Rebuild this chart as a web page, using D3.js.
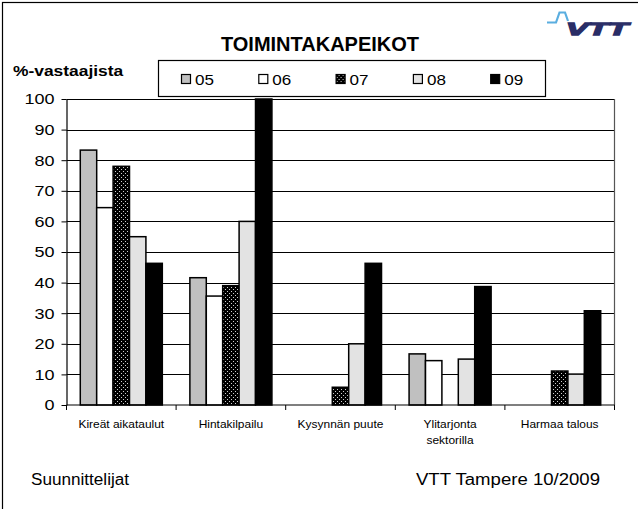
<!DOCTYPE html>
<html>
<head>
<meta charset="utf-8">
<script src="https://cdn.jsdelivr.net/npm/d3@7"></script>
<style>
  body { margin: 0; background: #fff; }
  text { font-family: "Liberation Sans", Arial, sans-serif; }
</style>
</head>
<body>
<svg id="chart" width="638" height="509"></svg>
<script>
// data
const categories = ['Kireät aikataulut', 'Hintakilpailu', 'Kysynnän puute', 'Ylitarjonta\nsektorilla', 'Harmaa talous'];
const seriesNames = ['05', '06', '07', '08', '09'];
const v05 = [83.3, 41.6, 0, 16.7, 0];
const v06 = [64.5, 35.6, 0, 14.5, 0];
const v07 = [78, 39, 5.8, 0, 11.1];
const v08 = [55, 60, 20, 15, 10.1];
const v09 = [46.3, 100, 46.3, 38.7, 30.8];
const yTicks = [0, 10, 20, 30, 40, 50, 60, 70, 80, 90, 100];

const series = [v05, v06, v07, v08, v09];
const fills = ['#c0c0c0', '#ffffff', 'url(#dots)', '#e3e3e3', '#000000'];
const FONT = '"Liberation Sans", Arial, sans-serif';

const svg = d3.select('#chart');
const margin = {left: 66.5, right: 614.5, top: 99, bottom: 405};

// the original text is drawn a little wide, so stretch it in place
function stretch(sel, k){
    sel.each(function(){
        let len = this.getComputedTextLength();
        d3.select(this).attr('textLength', len * k).attr('lengthAdjust', 'spacingAndGlyphs');
    });
}

// dotted pattern for 07
const defs = svg.append('defs');
const pat = defs.append('pattern')
    .attr('id', 'dots')
    .attr('patternUnits', 'userSpaceOnUse')
    .attr('width', 4).attr('height', 4);
pat.append('rect').attr('width', 4).attr('height', 4).attr('fill', '#000');
pat.append('rect').attr('x', 1).attr('y', 1).attr('width', 1).attr('height', 1).attr('fill', '#d0d0d0');
pat.append('rect').attr('x', 3).attr('y', 3).attr('width', 1).attr('height', 1).attr('fill', '#d0d0d0');

// outer frame
svg.append('rect')
    .attr('x', 2.5).attr('y', 2.5)
    .attr('width', 640).attr('height', 512)
    .attr('fill', 'none').attr('stroke', '#000').attr('stroke-width', 1.2);

let x = d3.scaleBand()
    .domain(categories)
    .range([margin.left, margin.right])
    .paddingInner(0).paddingOuter(0);

let xs = d3.scaleBand()
    .domain(seriesNames)
    .range([0, x.bandwidth()])
    .paddingOuter(0.84).paddingInner(0);

let y = d3.scaleLinear()
    .domain([0, 100])
    .range([margin.bottom, margin.top]);

// gridlines
svg.append('g').selectAll('line.grid')
    .data(yTicks.filter(d => d > 0))
    .enter().append('line')
        .attr('class', 'grid')
        .attr('x1', margin.left).attr('x2', margin.right)
        .attr('y1', d => Math.round(y(d)) + 0.5).attr('y2', d => Math.round(y(d)) + 0.5)
        .attr('stroke', '#000').attr('stroke-width', 1);

// right border of plot
svg.append('line')
    .attr('x1', margin.right).attr('x2', margin.right)
    .attr('y1', margin.top).attr('y2', margin.bottom)
    .attr('stroke', '#555').attr('stroke-width', 1.2);

// bars
const barData = [];
categories.forEach((c, i) => {
    seriesNames.forEach((s, j) => {
        barData.push({cat: c, s: s, value: series[j][i], fill: fills[j]});
    });
});

svg.append('g').selectAll('rect.bar')
    .data(barData.filter(d => d.value > 0))
    .enter().append('rect')
        .attr('class', 'bar')
        .attr('x', d => x(d.cat) + xs(d.s))
        .attr('width', xs.bandwidth())
        .attr('y', d => y(d.value))
        .attr('height', d => y(0) - y(d.value))
        .attr('fill', d => d.fill)
        .attr('stroke', '#000')
        .attr('stroke-width', 1.5);

// y axis
const yAxis = d3.axisLeft(y).tickValues(yTicks).tickSize(5).tickSizeOuter(0).tickPadding(7);
const gy = svg.append('g')
    .attr('transform', `translate(${margin.left},0)`)
    .call(yAxis);
gy.attr('font-family', FONT);
gy.select('.domain').attr('stroke', '#000').attr('stroke-width', 1.2);
gy.selectAll('.tick line').attr('stroke', '#000');
gy.selectAll('.tick text')
    .attr('font-size', 15)
    .attr('fill', '#000')
    .call(stretch, 1.2);

// x axis: baseline and boundary ticks
svg.append('line')
    .attr('x1', margin.left).attr('x2', margin.right)
    .attr('y1', margin.bottom).attr('y2', margin.bottom)
    .attr('stroke', '#000').attr('stroke-width', 1.2);

const bounds = categories.map(c => x(c)).concat([margin.right]);
svg.append('g').selectAll('line.xtick')
    .data(bounds)
    .enter().append('line')
        .attr('x1', d => d).attr('x2', d => d)
        .attr('y1', margin.bottom).attr('y2', margin.bottom + 5)
        .attr('stroke', '#000');

const xl = svg.append('g').selectAll('text.xlabel')
    .data(categories)
    .enter().append('text')
        .attr('class', 'xlabel')
        .attr('text-anchor', 'middle')
        .attr('font-size', 11.5)
        .attr('y', 428);
xl.selectAll('tspan')
    .data(d => d.split('\n').map(t => ({t, c: d})))
    .enter().append('tspan')
        .attr('x', d => x(d.c) + x.bandwidth() / 2)
        .attr('dy', (d, i) => i ? 16 : 0)
        .text(d => d.t)
        .call(stretch, 1.04);

// title
svg.append('text')
    .attr('x', 320).attr('y', 51)
    .attr('text-anchor', 'middle')
    .attr('font-size', 20)
    .attr('font-weight', 'bold')
    .text('TOIMINTAKAPEIKOT');

svg.append('text')
    .attr('x', 13).attr('y', 76)
    .attr('font-size', 15)
    .attr('font-weight', 'bold')
    .text('%-vastaajista')
    .call(stretch, 1.16);

// legend
const legend = svg.append('g');
legend.append('rect')
    .attr('x', 158.5).attr('y', 60.5)
    .attr('width', 387).attr('height', 36)
    .attr('fill', '#fff').attr('stroke', '#000').attr('stroke-width', 1.2);

const li = legend.selectAll('g.item')
    .data(seriesNames)
    .enter().append('g')
        .attr('class', 'item')
        .attr('transform', (d, i) => `translate(${181 + i * 77.3},0)`);
li.append('rect')
    .attr('x', 0.5).attr('y', 74.5)
    .attr('width', 9).attr('height', 9)
    .attr('fill', (d, i) => fills[i])
    .attr('stroke', '#000').attr('stroke-width', 1.2);
li.append('text')
    .attr('x', 14).attr('y', 85)
    .attr('font-size', 15.5)
    .text(d => d)
    .call(stretch, 1.1);

// footer
svg.append('text')
    .attr('x', 31).attr('y', 485)
    .attr('font-size', 16)
    .text('Suunnittelijat')
    .call(stretch, 1.07);
svg.append('text')
    .attr('x', 600).attr('y', 485)
    .attr('text-anchor', 'end')
    .attr('font-size', 16)
    .text('VTT Tampere 10/2009')
    .call(stretch, 1.16);

// VTT logo
const logo = svg.append('g');
logo.append('path')
    .attr('d', 'M 547 22.5 L 556 22.5 L 559.5 12.5 L 565 12.5 L 568 21')
    .attr('fill', 'none')
    .attr('stroke', '#5aaee0')
    .attr('stroke-width', 2.2);
logo.append('text')
    .attr('x', 566).attr('y', 35)
    .attr('font-size', 17)
    .attr('font-weight', 'bold')
    .attr('font-style', 'italic')
    .attr('font-family', FONT)
    .attr('textLength', 62)
    .attr('lengthAdjust', 'spacingAndGlyphs')
    .attr('fill', '#2a2d66')
    .attr('stroke', '#2a2d66')
    .attr('stroke-width', 1.3)
    .text('VTT');
</script>
</body>
</html>
